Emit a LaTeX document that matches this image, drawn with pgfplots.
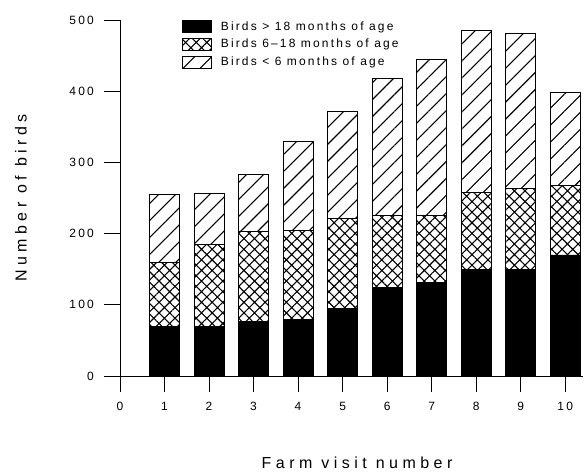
\documentclass[border=0pt]{standalone}
\usepackage{fontspec}
\setmainfont{Liberation Sans}
\newfontfamily\plotfont[LetterSpace=18]{Liberation Sans}
\newfontfamily\labelfont[LetterSpace=28]{Liberation Sans}
\usepackage{pgfplots}
\usepackage{pgfplotstable}
\pgfplotsset{compat=1.18}
\usetikzlibrary{patterns.meta}

\pgfplotstableread{
x black cross hatch
1 70 90 95
2 70 115 71
3 76 127 80
4 80 124 126
5 95 126 150
6 125 100 193
7 131 94 220
8 150 108 227
9 150 113 218
10 170 98 130
}\datatable

\pgfplotsset{boxlegend/.style={legend image code/.code={\draw[##1,line width=0.8pt] (0pt,-6pt) rectangle (29pt,6pt);}}}

\begin{document}
\begin{tikzpicture}
\useasboundingbox (0,0) rectangle (585pt,472pt);
\begin{axis}[
  at={(120pt,96pt)}, anchor=south west,
  scale only axis, width=463pt, height=356pt,
  xmin=0, xmax=10.4, ymin=0, ymax=500,
  axis x line*=bottom, axis y line*=left,
  axis line style={-, line width=1pt},
  xtick={0,...,10}, ytick={0,100,...,500},
  tick align=outside, major tick length=16pt,
  tick style={line width=1pt, black},
  ybar stacked, bar width=30pt,
  /pgf/number format/assume math mode=true,
  ticklabel style={font=\plotfont\fontsize{12}{12}\selectfont, inner sep=0pt},
  yticklabel style={xshift=-10pt},
  xticklabel style={yshift=-10pt},
  xlabel={Farm visit number}, ylabel={Number of birds},
  label style={font=\labelfont\fontsize{16}{16}\selectfont},
  xlabel style={at={(axis description cs:0.512,-0.244)}, anchor=center},
  ylabel style={at={(axis description cs:-0.214,0.5)}, anchor=center},
  legend style={at={(axis description cs:0.134,1.0)}, anchor=north west,
    draw=none, fill=none, inner sep=0pt, outer sep=0pt, row sep=5pt,
    nodes={inner sep=0pt},
    font=\plotfont\fontsize{12}{12}\selectfont,
    /tikz/every odd column/.append style={column sep=9pt}},
  legend cell align=left,
]
\addplot[boxlegend, draw=black, line width=0.8pt, fill=black] table[x=x, y=black] {\datatable};
\addplot[boxlegend, draw=black, line width=0.8pt, pattern={Hatch[angle=45,distance=7.5pt,line width=1.1pt]}] table[x=x, y=cross] {\datatable};
\addplot[boxlegend, draw=black, line width=0.8pt, pattern={Lines[angle=45,distance=12pt,line width=1.1pt]}] table[x=x, y=hatch] {\datatable};
\legend{Birds > 18 months of age, Birds 6–18 months of age, Birds < 6 months of age}
\end{axis}
\end{tikzpicture}
\end{document}
